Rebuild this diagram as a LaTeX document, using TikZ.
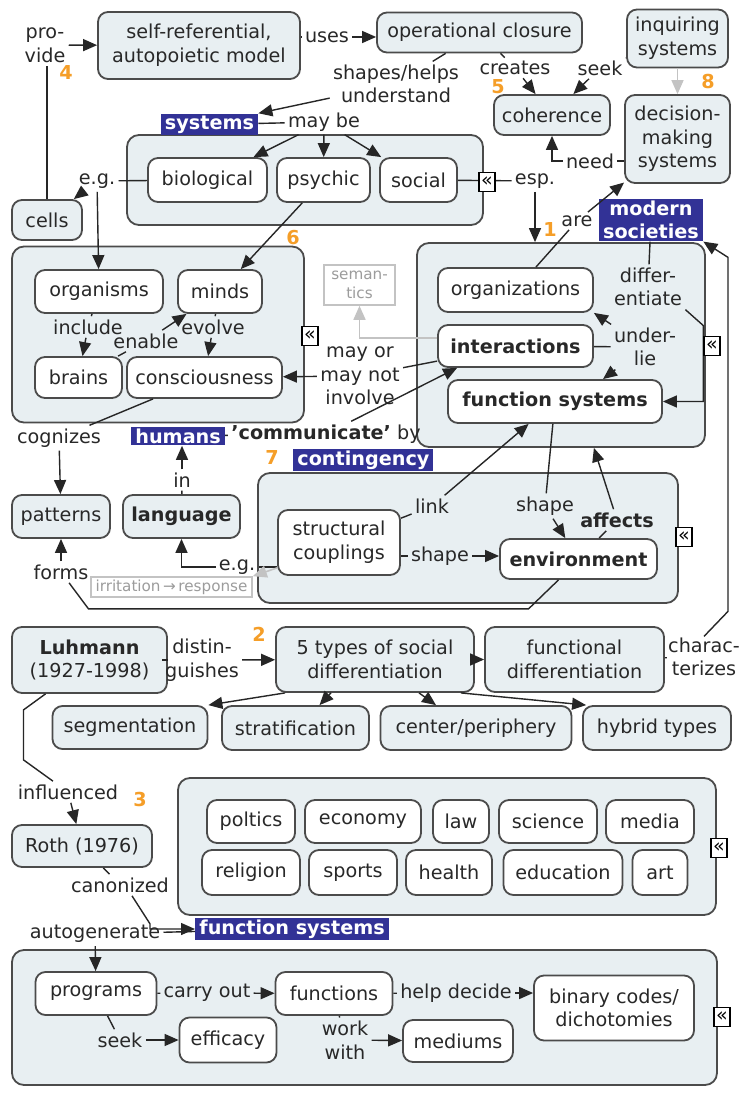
\documentclass[tikz,border=0pt]{standalone}
\usepackage{fontspec}
\setmainfont{DejaVu Sans}
\usetikzlibrary{arrows.meta}

\definecolor{boxfill}{RGB}{232,239,242}
\definecolor{boxline}{RGB}{75,75,75}
\definecolor{inktext}{RGB}{40,40,40}
\definecolor{tagblue}{RGB}{50,50,150}
\definecolor{numorange}{RGB}{245,158,40}
\definecolor{faint}{RGB}{195,195,195}

\newcommand{\mapfont}{\fontsize{9.6}{11.8}\selectfont}
\newcommand{\smallmapfont}{\fontsize{7.6}{9.2}\selectfont}

\tikzset{
  sz/.style 2 args={minimum width=#1*0.5pt, minimum height=#2*0.5pt},
  concept/.style={draw=boxline, line width=0.9pt, fill=boxfill, rounded corners=5pt,
    align=center, text=inktext, font=\mapfont, inner sep=2pt},
  whitebox/.style={concept, fill=white},
  cluster/.style={draw=boxline, line width=0.9pt, fill=boxfill, rounded corners=6pt, inner sep=0pt},
  tag/.style={fill=tagblue, text=white, font=\mapfont\bfseries, align=center, inner xsep=2pt, inner ysep=1pt},
  linkword/.style={text=inktext, font=\mapfont, align=center, inner sep=1.5pt},
  num/.style={text=numorange, font=\mapfont\bfseries, inner sep=0pt},
  faintbox/.style={draw=faint, line width=0.8pt, fill=white, text=faint!80!black, font=\smallmapfont, align=center, inner sep=1pt},
  collapse/.style={draw=black, fill=white, line width=0.6pt, inner sep=0pt, minimum width=8pt, minimum height=9.5pt, font=\fontsize{9.5}{9.5}\selectfont},
  con/.style={draw=black!85, line width=0.7pt},
  arr/.style={con, -{Triangle[length=7pt,width=6pt]}},
  faintarr/.style={draw=faint, line width=0.8pt, -{Triangle[length=7pt,width=6pt]}},
}

\begin{document}
\begin{tikzpicture}[x=0.5pt, y=-0.5pt]
    \fill[white] (0,0) rectangle (741,1095);
    \useasboundingbox (0,0) rectangle (741,1095);

    % Groups
    \node[cluster, sz={356}{90}] (gsys) at (305,180) {};
    \node[cluster, sz={292}{176}] (gmind) at (158,334.5) {};
    \node[cluster, sz={288}{204}] (gsoc) at (561,345) {};
    \node[cluster, sz={420}{130}] (gcont) at (468,538) {};
    \node[cluster, sz={538}{137}] (gfun) at (447,846.5) {};
    \node[cluster, sz={705}{135}] (gprog) at (364.5,1017.5) {};

    % Top row
    \node[concept, sz={202}{67}] (model) at (199,45.5) {self-referential,\\autopoietic model};
    \node[concept, sz={205}{40}] (closure) at (479.5,32.5) {operational closure};
    \node[concept, sz={101}{58}] (inquiring) at (677.5,38.5) {inquiring\\systems};
    \node[concept, sz={116}{40}] (coherence) at (552,115) {coherence};
    \node[concept, sz={105}{88}] (decision) at (677.5,139) {decision-\\making\\systems};
    \node[concept, sz={70}{40}] (cells) at (47,220) {cells};

    % Kinds of systems
    \node[tag] (systems) at (209.5,124.5) {systems};
    \node[whitebox, sz={119}{44}] (biological) at (207.5,180) {biological};
    \node[whitebox, sz={93}{44}] (psychic) at (323.5,180) {psychic};
    \node[whitebox, sz={77}{44}] (social) at (418.5,180) {social};
    \node[tag] (modern) at (651,220) {modern\\societies};

    % Minds
    \node[whitebox, sz={128}{43}] (organisms) at (99,291.5) {organisms};
    \node[whitebox, sz={84}{43}] (minds) at (220,291.5) {minds};
    \node[whitebox, sz={87}{41}] (brains) at (78.5,377.5) {brains};
    \node[whitebox, sz={155}{41}] (consc) at (204.5,377.5) {consciousness};

    % Society
    \node[whitebox, sz={155}{44}] (organizations) at (515.5,290) {organizations};
    \node[whitebox, sz={155}{42}, font=\mapfont\bfseries] (interactions) at (515.5,346) {interactions};
    \node[whitebox, sz={214}{43}, font=\mapfont\bfseries] (funsys) at (555,401.5) {function systems};
    \node[faintbox, sz={71}{40}] (semantics) at (359.5,285) {seman-\\tics};

    \node[tag, anchor=west] (humans) at (131,436) {humans};
    \node[tag, anchor=west] (contingency) at (293,460) {contingency};

    % Contingency
    \node[concept, sz={98}{43}] (patterns) at (61,516.5) {patterns};
    \node[concept, sz={117}{43}, font=\mapfont\bfseries] (language) at (181.5,516.5) {language};
    \node[whitebox, sz={122}{65}] (structural) at (339,542.5) {structural\\couplings};
    \node[whitebox, sz={157}{40}, font=\mapfont\bfseries] (environment) at (578.5,559) {environment};
    \node[faintbox, sz={161}{20}] (irritation) at (171.5,587) {irritation\,→\,response};

    % Differentiation
    \node[concept, sz={155}{66}] (luhmann) at (89.5,660) {\textbf{Luhmann}\\(1927-1998)};
    \node[concept, sz={198}{65}] (types) at (375,659.5) {5 types of social\\differentiation};
    \node[concept, sz={179}{65}] (functional) at (574.5,659.5) {functional\\differentiation};
    \node[concept, sz={155}{43}] (segmentation) at (130,727.5) {segmentation};
    \node[concept, sz={147}{44}] (stratification) at (295.5,728) {stratification};
    \node[concept, sz={191}{44}] (centerper) at (476,728) {center/periphery};
    \node[concept, sz={148}{44}] (hybrid) at (657,728) {hybrid types};

    % Function systems
    \node[concept, sz={140}{42}] (roth) at (82,846) {Roth (1976)};
    \foreach \t/\cx/\w in {poltics/251/88, economy/363/116, law/461/56, science/548/98, media/650/88}
        \node[whitebox, sz={\w}{43}] (\t) at (\cx,821.5) {\t};
    \foreach \t/\cx/\w in {religion/251/98, sports/353/88, health/449/86, education/563/119, art/660/55}
        \node[whitebox, sz={\w}{45}] (\t) at (\cx,872.5) {\t};
    \node[tag, anchor=west] (fstag) at (195,929) {function systems};

    \node[whitebox, sz={121}{43}] (programs) at (96,993.5) {programs};
    \node[whitebox, sz={117}{43}] (functions) at (334,993.5) {functions};
    \node[whitebox, sz={160}{65}] (binary) at (614,1008) {binary codes/\\dichotomies};
    \node[whitebox, sz={97}{45}] (efficacy) at (228,1040) {efficacy};
    \node[whitebox, sz={110}{42}] (mediums) at (458,1041) {mediums};

    % Linking words
    \node[linkword] (provide) at (45,45) {pro-\\vide};
    \node[linkword] (uses) at (327,37) {uses};
    \node[linkword] (shapes) at (396,84) {shapes/helps\\understand};
    \node[linkword] (creates) at (515,68) {creates};
    \node[linkword] (seek) at (600,68) {seek};
    \node[linkword] (need) at (590,161) {need};
    \node[linkword] (maybe) at (324,122) {may be};
    \node[linkword] (eg1) at (97,181) {e.g.};
    \node[linkword] (esp) at (535,181) {esp.};
    \node[linkword] (are) at (577,221) {are};
    \node[linkword] (diff) at (648,287) {differ-\\entiate};
    \node[linkword] (underlie) at (645,347) {under-\\lie};
    \node[linkword] (involve) at (360,376) {may or\\may not\\involve};
    \node[linkword] (commun) at (326,434) {\textbf{'communicate'} by};
    \node[linkword] (include) at (88,327) {include};
    \node[linkword] (enable) at (146,341) {enable};
    \node[linkword] (evolve) at (213,327) {evolve};
    \node[linkword] (cognizes) at (59,438) {cognizes};
    \node[linkword] (inlbl) at (182,480) {in};
    \node[linkword] (forms) at (61,572) {forms};
    \node[linkword] (eg2) at (237,567) {e.g.};
    \node[linkword] (linklbl) at (432,506) {link};
    \node[linkword] (shapeA) at (545,506) {shape};
    \node[linkword, font=\mapfont\bfseries] (affects) at (617,520) {affects};
    \node[linkword] (shapeB) at (440,556) {shape};
    \node[linkword] (dist) at (202,660) {distin-\\guishes};
    \node[linkword, inner sep=0.5pt] (charac) at (704,657) {charac-\\terizes};
    \node[linkword] (influenced) at (68,792) {influenced};
    \node[linkword] (canonized) at (120,885) {canonized};
    \node[linkword] (autogen) at (95,934) {autogenerate};
    \node[linkword] (carry) at (207,993) {carry out};
    \node[linkword] (help) at (456,993) {help decide};
    \node[linkword] (seekB) at (120,1040) {seek};
    \node[linkword] (work) at (345,1040) {work\\with};

    % Top connectors
    \draw[con] (cells.north) -- (cells.north |- provide.south);
    \draw[arr] (provide) -- (model);
    \draw[con] (model.east |- uses) -- (uses);
    \draw[arr] (uses) -- (closure.west |- uses);
    \draw[con] (closure) -- (shapes);
    \draw[arr] (shapes) -- (systems.north east);
    \draw[con] (closure) -- (creates);
    \draw[arr] (creates) -- (coherence);
    \draw[con] (inquiring) -- (seek);
    \draw[arr] (seek) -- (coherence);
    \draw[faintarr] (inquiring) -- (decision);
    \draw[con] (decision.west |- need) -- (need);
    \draw[arr] (need) -| (coherence);

    % Systems connectors
    \draw[con] (systems) -- (maybe);
    \foreach \s in {biological, psychic, social}
        \draw[arr] (maybe) -- (\s);
    \draw[con] (biological) -- (eg1);
    \draw[arr] (eg1) -- (cells);
    \draw[arr] (eg1) -- (organisms);
    \draw[con] (social) -- (esp);
    \draw[arr] (esp) -- (esp |- gsoc.north);
    \draw[arr] (psychic) -- (minds);
    \draw[con] (organizations) -- (are);
    \draw[arr] (are) -- (decision);

    % Society connectors
    \draw[con] (modern) -- (diff);
    \draw[arr] (diff.south east) -- ++(18,16) |- (funsys.east);
    \draw[con] (interactions) -- (underlie);
    \draw[arr] (underlie) -- (organizations.south east);
    \draw[arr] (underlie) -- ([xshift=24pt]funsys.north);
    \draw[faintarr] ([yshift=4pt]interactions.west) -| (semantics);
    \draw[con] (interactions) -- (involve);
    \draw[arr] (involve) -- (consc);
    \draw[con] (humans) -- (commun);
    \draw[arr] (commun) -- ([xshift=10pt]interactions.south west);

    % Mind connectors
    \draw[con] (organisms) -- (include);
    \draw[arr] (include) -- (brains);
    \draw[con] (brains) -- (enable);
    \draw[arr] (enable) -- (minds);
    \draw[con] (minds) -- (evolve);
    \draw[arr] (evolve) -- (consc);
    \draw[con] (consc) -- (cognizes);
    \draw[arr] (cognizes) -- (patterns);
    \draw[con] (language) -- (inlbl);
    \draw[arr] (inlbl) -- (humans.south -| inlbl);

    % Contingency connectors
    \draw[con] (structural.west |- eg2) -- (eg2);
    \draw[arr] (eg2) -| (language);
    \draw[faintarr] ([yshift=4pt]structural.south west) -- (irritation.north east);
    \draw[con] (structural) -- (linklbl);
    \draw[arr] (linklbl) -- (funsys);
    \draw[con] (funsys) -- (shapeA);
    \draw[arr] (shapeA) -- (environment);
    \draw[con] (environment) -- (affects);
    \draw[arr] (affects) -- (gsoc);
    \draw[con] (structural.east |- shapeB) -- (shapeB);
    \draw[arr] (shapeB) -- (environment.west |- shapeB);
    \draw[con] ([xshift=-10pt]environment.south) -- ++(-30,29) -- ++(-440,0) -- (forms);
    \draw[arr] (forms) -- (patterns);

    % Differentiation connectors
    \draw[con] (luhmann) -- (dist);
    \draw[arr] (dist) -- (types);
    \draw[arr] (types) -- (functional);
    \draw[con] (functional) -- (charac);
    \draw[arr] (charac.north) -- ++(24,-25) -- ++(0,-354) -- (modern.south east);
    \draw[arr] ([xshift=5pt]types.south west) -- (segmentation.north east);
    \draw[arr] ([xshift=-22pt]types.south) -- ([xshift=12pt]stratification.north);
    \draw[arr] ([xshift=22pt]types.south) -- ([xshift=-20pt]centerper.north);
    \draw[arr] ([xshift=-7pt]types.south east) -- ([xshift=2pt]hybrid.north west);

    % Function system connectors
    \draw[con] ([xshift=-22pt]luhmann.south) -- ++(-22,16) -- ++(0,50) -- (influenced);
    \draw[arr] (influenced) -- (roth);
    \draw[con] (roth) -- (canonized);
    \draw[arr] ([xshift=6pt]canonized.south) -- ++(18,28) |- (fstag.west);
    \draw[con] (fstag) -- (autogen);
    \draw[arr] (autogen) -- (programs);
    \draw[con] (programs) -- (carry);
    \draw[arr] (carry) -- (functions);
    \draw[con] (functions) -- (help);
    \draw[arr] (help) -- (binary.west |- help);
    \draw[con] (programs) -- (seekB);
    \draw[arr] (seekB) -- (efficacy);
    \draw[con] (functions) -- (work);
    \draw[arr] (work) -- (mediums);

    % Collapse markers
    \foreach \cx/\cy [count=\i] in {487/182, 310/336, 712/346, 684/537, 719/848, 722/1017}
        \node[collapse] (fold\i) at (\cx,\cy) {«};

    % Step numbers
    \foreach \n/\nx/\ny in {1/550/230, 2/259/634, 3/140/800, 4/66/73, 5/498/87, 6/293/238, 7/272/458, 8/708/82}
        \node[num] (step\n) at (\nx,\ny) {\n};
\end{tikzpicture}
\end{document}
